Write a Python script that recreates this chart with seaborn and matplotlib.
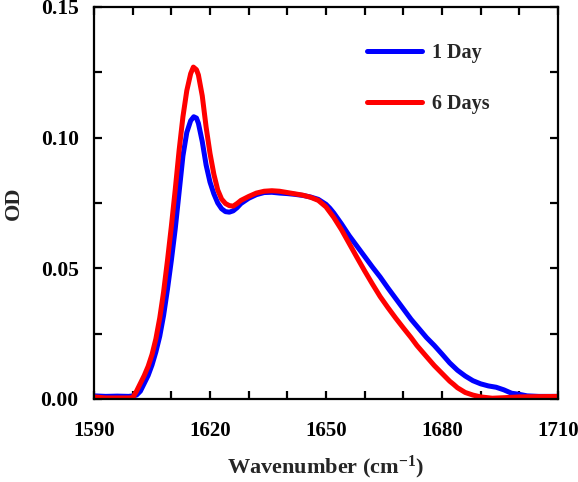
import numpy as np
import pandas as pd
import matplotlib
matplotlib.use("Agg")
import matplotlib.pyplot as plt
import seaborn as sns

# ---- data ----
wn_day1 = [1590, 1593, 1596, 1599, 1600, 1601, 1602, 1603, 1604, 1605, 1606, 1607, 1608, 1609,
           1610, 1611, 1612, 1613, 1614, 1615, 1615.8, 1616.5, 1617, 1618, 1619, 1620, 1621,
           1622, 1623, 1624, 1625, 1626, 1627, 1628, 1630, 1632, 1634, 1636, 1638, 1640, 1642,
           1644, 1646, 1648, 1650, 1651, 1652, 1654, 1656, 1658, 1660, 1662, 1664, 1666, 1668,
           1670, 1672, 1674, 1676, 1678, 1680, 1682, 1684, 1686, 1688, 1690, 1692, 1694, 1696,
           1698, 1700, 1702, 1705, 1710]
od_day1 = [0.0012, 0.0010, 0.0011, 0.0010, 0.0012, 0.0015, 0.0030, 0.0060, 0.0090, 0.0130,
           0.0180, 0.0240, 0.0320, 0.0420, 0.0530, 0.0650, 0.0790, 0.0930, 0.1020, 0.1065,
           0.1080, 0.1075, 0.1055, 0.0985, 0.0895, 0.0830, 0.0785, 0.0750, 0.0728, 0.0717,
           0.0715, 0.0720, 0.0732, 0.0748, 0.0768, 0.0782, 0.0790, 0.0791, 0.0788, 0.0786,
           0.0783, 0.0779, 0.0773, 0.0764, 0.0745, 0.0730, 0.0712, 0.0670, 0.0625, 0.0585,
           0.0545, 0.0505, 0.0467, 0.0425, 0.0385, 0.0345, 0.0305, 0.0270, 0.0235, 0.0205,
           0.0172, 0.0138, 0.0110, 0.0088, 0.0070, 0.0058, 0.0050, 0.0045, 0.0035, 0.0022,
           0.0018, 0.0012, 0.0010, 0.0010]

wn_day6 = [1590, 1593, 1596, 1599, 1600, 1601, 1602, 1603, 1604, 1605, 1606, 1607, 1608, 1609,
           1610, 1611, 1612, 1613, 1614, 1615, 1615.7, 1616.5, 1617, 1618, 1619, 1620, 1621,
           1622, 1623, 1624, 1625, 1626, 1627, 1628, 1630, 1632, 1634, 1636, 1638, 1640, 1642,
           1644, 1646, 1648, 1650, 1651, 1652, 1654, 1656, 1658, 1660, 1662, 1664, 1666, 1668,
           1670, 1672, 1673.5, 1676, 1678, 1680, 1682, 1683, 1684, 1686, 1688, 1690, 1693, 1696,
           1700, 1705, 1710]
od_day6 = [0.0008, 0.0004, 0.0004, 0.0004, 0.0005, 0.0030, 0.0060, 0.0090, 0.0125, 0.0170,
           0.0230, 0.0310, 0.0410, 0.0530, 0.0660, 0.0800, 0.0950, 0.1080, 0.1180, 0.1245,
           0.1270, 0.1260, 0.1240, 0.1160, 0.1040, 0.0940, 0.0860, 0.0800, 0.0765, 0.0748,
           0.0740, 0.0738, 0.0748, 0.0760, 0.0775, 0.0788, 0.0795, 0.0797, 0.0795, 0.0790,
           0.0785, 0.0780, 0.0772, 0.0760, 0.0735, 0.0715, 0.0695, 0.0648, 0.0595, 0.0542,
           0.0490, 0.0440, 0.0392, 0.0350, 0.0310, 0.0272, 0.0235, 0.0205, 0.0162, 0.0128,
           0.0098, 0.0068, 0.0056, 0.0043, 0.0025, 0.0015, 0.0008, 0.0003, 0.0005, 0.0008,
           0.0009, 0.0010]

series_labels = ["1 Day", "6 Days"]
series_colors = ["#0000ff", "#ff0000"]

df = pd.concat([
    pd.DataFrame({"wn": wn_day1, "od": od_day1, "series": series_labels[0]}),
    pd.DataFrame({"wn": wn_day6, "od": od_day6, "series": series_labels[1]}),
], ignore_index=True)

sns.set_theme(style="ticks")
plt.rcParams["font.family"] = ["Liberation Serif", "DejaVu Serif"]
plt.rcParams["font.weight"] = "bold"
plt.rcParams["mathtext.fontset"] = "custom"
plt.rcParams["mathtext.rm"] = "Liberation Serif:bold"
plt.rcParams["mathtext.bf"] = "Liberation Serif:bold"
plt.rcParams["mathtext.default"] = "rm"

fig = plt.figure(figsize=(5.78, 4.82), dpi=100)
ax = fig.add_axes([94 / 578, 1 - 399 / 482, (558 - 94) / 578, (399 - 7) / 482])

sns.lineplot(data=df, x="wn", y="od", hue="series", palette=dict(zip(series_labels, series_colors)),
             linewidth=3.6, ax=ax, sort=False, estimator=None)

ax.set_xlim(1590, 1710)
ax.set_ylim(0, 0.15)
ax.set_xticks([1590, 1620, 1650, 1680, 1710])
ax.set_xticks(np.arange(1590, 1711, 10), minor=True)
ax.set_yticks([0.0, 0.05, 0.10, 0.15])
ax.set_yticks(np.arange(0, 0.151, 0.025), minor=True)
ax.set_yticklabels(["0.00", "0.05", "0.10", "0.15"])

for s in ax.spines.values():
    s.set_linewidth(1.6)
    s.set_color("black")
ax.tick_params(which="both", direction="in", top=True, right=True, width=1.6, length=6,
               colors="black")
ax.tick_params(axis="x", which="major", labelsize=15, pad=16)
ax.tick_params(axis="y", which="major", labelsize=15.5, pad=11)
for lab in ax.get_xticklabels() + ax.get_yticklabels():
    lab.set_fontweight("bold")

ax.set_xlabel(r"Wavenumber (cm$^{-1}$)", fontsize=16, fontweight="bold", labelpad=9)
ax.set_ylabel("OD", fontsize=16, fontweight="bold", labelpad=12)

leg = ax.legend(loc="upper left", bbox_to_anchor=(0.55, 0.955), frameon=False,
                fontsize=14.5, handlelength=2.7, labelspacing=1.55, handletextpad=0.5)
for t in leg.get_texts():
    t.set_fontweight("bold")
for l in leg.get_lines():
    l.set_linewidth(3.6)

fig.savefig("out.png", dpi=100)
